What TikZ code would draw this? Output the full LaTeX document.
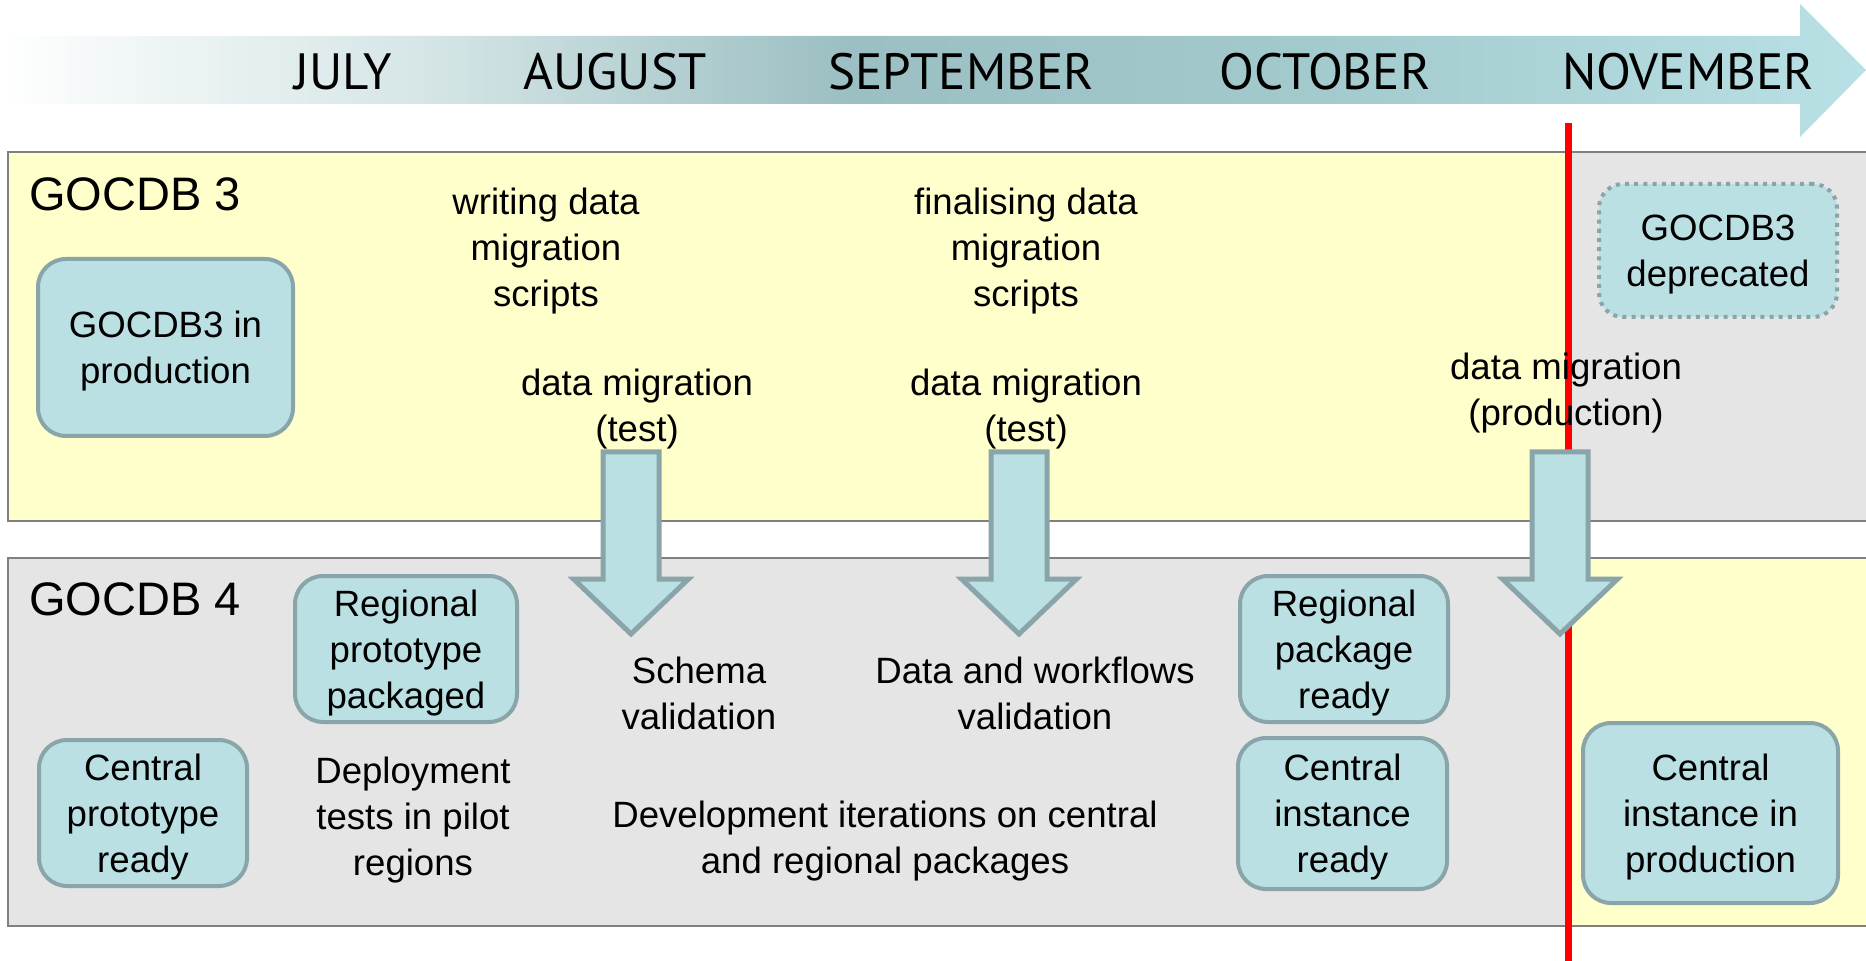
\documentclass[tikz,border=0pt]{standalone}
\usepackage{fontspec}
\setmainfont{Liberation Sans}
\newfontfamily\monthfont{PT Sans}
\definecolor{paneyellow}{HTML}{FFFFCC}
\definecolor{panegray}{HTML}{E5E5E5}
\definecolor{paneline}{HTML}{808080}
\definecolor{boxfill}{HTML}{BAE0E3}
\definecolor{boxline}{HTML}{89A5A9}
\definecolor{tlA}{HTML}{EFF5F5}
\definecolor{tlB}{HTML}{D5E5E6}
\definecolor{tlC}{HTML}{9BBFC2}
\definecolor{tlD}{HTML}{A2C9CC}
\definecolor{tlE}{HTML}{B9E1E5}
\definecolor{redline}{HTML}{FF0000}
\pgfdeclarehorizontalshading{timelineshade}{100bp}{color(0bp)=(white); color(25bp)=(white); color(29bp)=(tlA); color(36.5bp)=(tlB); color(47.8bp)=(tlC); color(59.8bp)=(tlD); color(75bp)=(tlE); color(100bp)=(tlE)}
\newcommand\bodyfont{\fontsize{18.3}{23}\selectfont}
\newcommand\panelfont{\fontsize{23.5}{28}\selectfont}
\newcommand\mfont{\monthfont\fontsize{25.5}{30}\selectfont}
\tikzset{
  box/.style={draw=boxline, fill=boxfill, line width=2pt, rounded corners=14pt, inner sep=0pt},
  dotbox/.style={box, dash pattern=on 2pt off 2.6pt, line cap=butt},
  txt/.style={align=center, inner sep=0pt, font=\bodyfont},
  boxtxt/.style={txt, yshift=-2pt},
  panellabel/.style={anchor=west, inner sep=0pt, font=\panelfont},
  month/.style={anchor=base, inner sep=0pt, font=\mfont},
  panelborder/.style={draw=paneline, line width=1.25pt},
  barrow/.style={draw=boxline, fill=boxfill, line width=2.5pt, line join=miter},
}
\begin{document}
\begin{tikzpicture}[x=0.5pt, y=-0.5pt]
\useasboundingbox (0,0) rectangle (1866,961);
% timeline arrow
\path[shading=timelineshade] (0,36) -- (1800,36) -- (1800,4) -- (1866,70) -- (1800,137) -- (1800,104) -- (0,104) -- cycle;
\node[month] (jul) at (343,90) {JULY};
\node[month] (aug) at (615,90) {AUGUST};
\node[month] (sep) at (961,90) {SEPTEMBER};
\node[month] (oct) at (1325,90) {OCTOBER};
\node[month] (nov) at (1688,90) {NOVEMBER};
% panels
\fill[paneyellow] (8,152) rectangle (1568,521);
\fill[panegray] (1568,152) rectangle (1870,521);
\draw[panelborder] (1870,152) -- (8,152) -- (8,521) -- (1870,521);
\fill[panegray] (8,558) rectangle (1568,926);
\fill[paneyellow] (1568,558) rectangle (1870,926);
\draw[panelborder] (1870,558) -- (8,558) -- (8,926) -- (1870,926);
% red line
\coordinate (redtop) at (1568,123);
\coordinate (redbot) at (1568,965);
\draw[redline, line width=3.5pt] (redtop) -- (redbot);
% labels
\node[panellabel] (g3) at (29,194) {GOCDB 3};
\node[panellabel] (g4) at (29,599) {GOCDB 4};
% GOCDB 3 content
\node[box, minimum width=127.5pt, minimum height=88.5pt] (g3prod) at (165.5,347.5) {};
\node[boxtxt] (g3prodtxt) at (g3prod) {GOCDB3 in\\production};
\node[dotbox, minimum width=119pt, minimum height=66.5pt, rounded corners=12pt] (g3dep) at (1718,250.5) {};
\node[boxtxt] (g3deptxt) at (g3dep) {GOCDB3\\deprecated};
\node[txt] (write) at (546,251) {writing data\\migration\\scripts};
\node[txt] (final) at (1026,251) {finalising data\\migration\\scripts};
\node[txt] (test1) at (637,409) {data migration\\(test)};
\node[txt] (test2) at (1026,409) {data migration\\(test)};
\node[txt] (prodmig) at (1566,393) {data migration\\(production)};
% block arrows
\draw[barrow, shift={(631,0)}] (-28,452) -- (28,452) -- (28,579) -- (57.5,579) -- (0,634) -- (-57.5,579) -- (-28,579) -- cycle;
\draw[barrow, shift={(1019,0)}] (-28,452) -- (28,452) -- (28,579) -- (57.5,579) -- (0,634) -- (-57.5,579) -- (-28,579) -- cycle;
\draw[barrow, shift={(1560,0)}] (-28,452) -- (28,452) -- (28,579) -- (57.5,579) -- (0,634) -- (-57.5,579) -- (-28,579) -- cycle;
% GOCDB 4 content
\node[box, minimum width=111pt, minimum height=73pt] (regproto) at (406,649) {};
\node[boxtxt] (regprototxt) at (regproto) {Regional\\prototype\\packaged};
\node[box, minimum width=104pt, minimum height=73pt] (cenproto) at (143,813) {};
\node[boxtxt] (cenprototxt) at (cenproto) {Central\\prototype\\ready};
\node[box, minimum width=104pt, minimum height=73pt] (regpkg) at (1344,649) {};
\node[boxtxt] (regpkgtxt) at (regpkg) {Regional\\package\\ready};
\node[box, minimum width=104.5pt, minimum height=75.5pt] (ceninst) at (1342.5,813.5) {};
\node[boxtxt] (ceninsttxt) at (ceninst) {Central\\instance\\ready};
\node[box, minimum width=127.5pt, minimum height=90pt] (cenprod) at (1710.5,813) {};
\node[boxtxt] (cenprodtxt) at (cenprod) {Central\\instance in\\production};
\node[txt] (schema) at (699,693) {Schema\\validation};
\node[txt] (dataval) at (1035,693) {Data and workflows\\validation};
\node[txt] (deploy) at (413,820) {Deployment\\tests in pilot\\regions};
\node[txt] (devit) at (885,841) {Development iterations on central\\and regional packages};
\end{tikzpicture}
\end{document}
